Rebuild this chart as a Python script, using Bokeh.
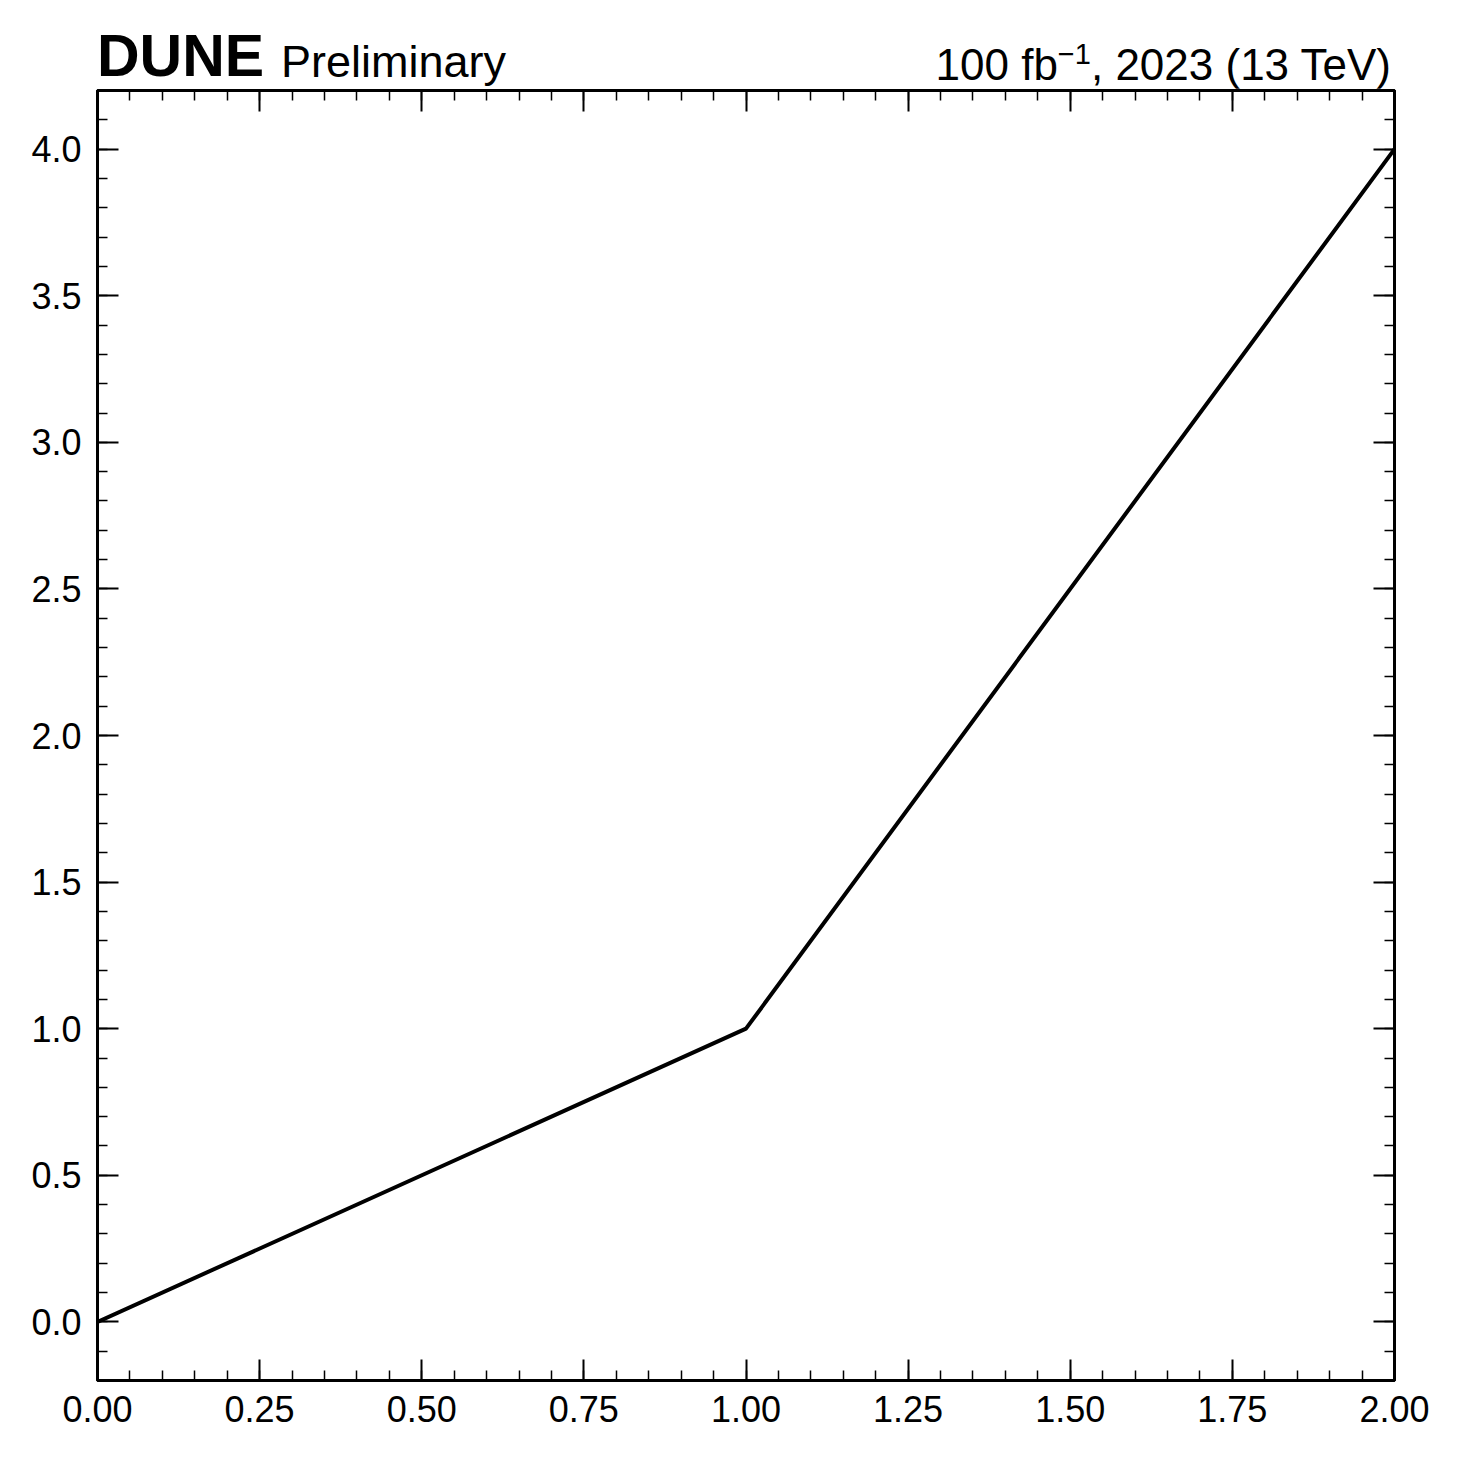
from bokeh.plotting import figure
from bokeh.models import (Range1d, LinearAxis, SingleIntervalTicker, PrintfTickFormatter, Div)
from bokeh.layouts import column
from bokeh.embed import file_html
from bokeh.resources import INLINE

x_values = [0.0, 1.0, 2.0]
y_values = [0.0, 1.0, 4.0]

x_range = (0.0, 2.0)
y_range = (-0.2, 4.2)

experiment_text = "DUNE"
status_text = "Preliminary"
lumi_main = "100 fb"
lumi_sup = "\u22121"
lumi_rest = ", 2023 (13 TeV)"

FONT = "Liberation Sans"

W = 1445
HEAD_H = 88
MAIN_H = 1445 - HEAD_H
BL, BR, BT, BB = 97, 51, 2, 65

head_html = f"""
<div style="position:relative;width:{W}px;height:{HEAD_H}px;font-family:'{FONT}',Arial,sans-serif;color:#000;">
  <span style="position:absolute;left:{BL}px;top:27px;font-size:59px;line-height:1;font-weight:bold;white-space:nowrap;">{experiment_text}</span>
  <span style="position:absolute;left:{BL + 184}px;top:39px;font-size:45px;line-height:1;white-space:nowrap;">{status_text}</span>
  <span style="position:absolute;right:{W - 1391}px;top:43px;font-size:44px;line-height:1;white-space:nowrap;">{lumi_main}<span style="font-size:29px;line-height:0;vertical-align:16px;">{lumi_sup}</span>{lumi_rest}</span>
</div>
"""
head = Div(text=head_html, width=W, height=HEAD_H, margin=0,
           styles={"overflow": "visible"})

p = figure(width=W, height=MAIN_H, output_backend="svg", toolbar_location=None,
           x_range=Range1d(*x_range), y_range=Range1d(*y_range),
           min_border_left=BL, min_border_right=BR, min_border_top=BT, min_border_bottom=BB,
           x_axis_location=None, y_axis_location=None, margin=0)
p.grid.visible = False
p.background_fill_color = "white"
p.border_fill_color = "white"
p.outline_line_color = "black"
p.outline_line_width = 3

xt = SingleIntervalTicker(interval=0.25, num_minor_ticks=5)
yt = SingleIntervalTicker(interval=0.5, num_minor_ticks=5)


def style(ax, labels):
    ax.axis_line_color = "black"
    ax.axis_line_width = 3
    ax.major_tick_in = 21
    ax.major_tick_out = 0
    ax.minor_tick_in = 10
    ax.minor_tick_out = 0
    ax.major_tick_line_width = 2
    ax.minor_tick_line_width = 1.5
    ax.major_tick_line_color = "black"
    ax.minor_tick_line_color = "black"
    if labels:
        ax.major_label_text_font = FONT
        ax.major_label_text_font_size = "36px"
        ax.major_label_text_color = "black"
    else:
        ax.major_label_text_font_size = "0px"
        ax.major_label_text_alpha = 0


xb = LinearAxis(ticker=xt, formatter=PrintfTickFormatter(format="%.2f"))
style(xb, True)
xb.major_label_standoff = 15
p.add_layout(xb, "below")

xa = LinearAxis(ticker=xt, formatter=PrintfTickFormatter(format="%.2f"))
style(xa, False)
xa.major_label_standoff = 0
p.add_layout(xa, "above")

yl = LinearAxis(ticker=yt, formatter=PrintfTickFormatter(format="%.1f"))
style(yl, True)
yl.major_label_standoff = 16
p.add_layout(yl, "left")

yr = LinearAxis(ticker=yt, formatter=PrintfTickFormatter(format="%.1f"))
style(yr, False)
yr.major_label_standoff = 0
p.add_layout(yr, "right")

p.line(x_values, y_values, line_color="black", line_width=4)

layout = column(head, p, spacing=0, margin=0)
open("out.html", "w").write(file_html(layout, INLINE))
